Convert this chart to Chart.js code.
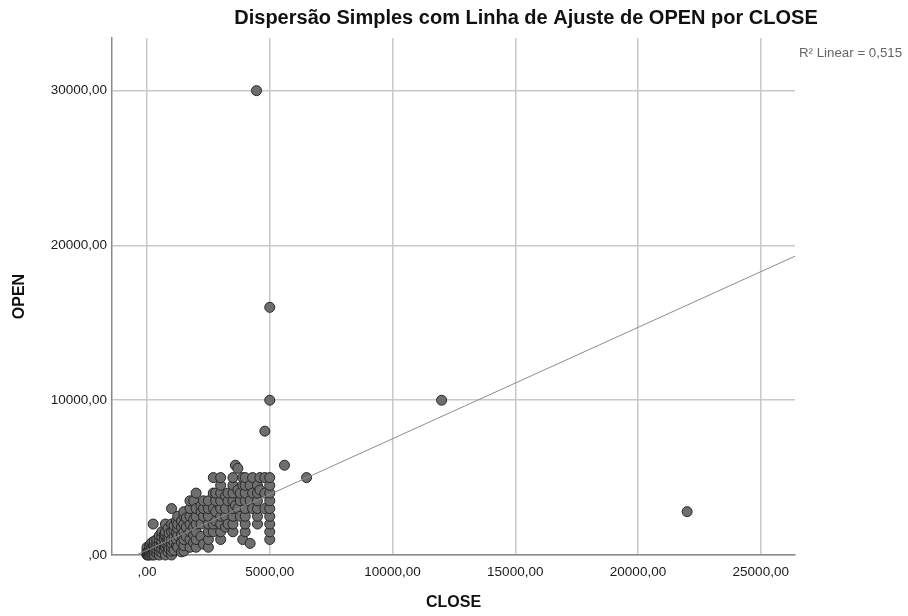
<!DOCTYPE html>
<html>
<head>
<meta charset="utf-8">
<script src="https://cdn.jsdelivr.net/npm/chart.js@4.4.1/dist/chart.umd.min.js"></script>
<style>
  body { margin: 0; background: #fff; }
</style>
</head>
<body>
<canvas id="grafico" width="908" height="616"></canvas>
<script>
// CLOSE values per column, and the OPEN values seen in each column
var closeCols = [0, 50, 100, 150, 200, 250, 300, 400, 500, 600, 700, 750, 850, 900, 1000,
    1100, 1200, 1250, 1400, 1500, 1600, 1750, 1900, 2000, 2200, 2300, 2500, 2700, 2800,
    3000, 3200, 3300, 3500, 3600, 3700, 3800, 3900, 4000, 4200, 4300, 4500, 4600, 4800, 5000];
var openCols = [
    [0, 50, 150, 300, 500],
    [0, 100, 250],
    [0, 200, 400, 600],
    [50, 300, 700],
    [0, 100, 350, 500, 800],
    [150, 600, 2000],
    [0, 250, 450, 700, 900],
    [100, 350, 600, 800, 1000],
    [0, 250, 500, 750, 1000, 1250],
    [150, 400, 700, 900, 1200, 1500],
    [300, 600, 1000, 1300],
    [0, 500, 750, 1250, 1500, 2000],
    [200, 600, 900, 1100, 1700],
    [400, 1000, 1400],
    [0, 250, 500, 750, 1000, 1500, 2000, 3000],
    [300, 800, 1200, 1600, 1900],
    [600, 1000, 1400, 2200],
    [500, 1250, 1750, 2000, 2500],
    [200, 800, 1300, 1800, 2200],
    [250, 600, 1000, 1500, 2000, 2500, 2800],
    [1200, 1800, 2400],
    [500, 1000, 1500, 2000, 2500, 3000, 3500],
    [800, 1300, 1800, 2300, 3500],
    [500, 1000, 1500, 2000, 2500, 3000, 4000],
    [1200, 2000, 2800, 3200],
    [700, 2500, 3000, 3500],
    [500, 1000, 1500, 2000, 2500, 3000, 3500],
    [1500, 2000, 3000, 4000, 5000],
    [2200, 2800, 3500, 4000],
    [1000, 1500, 2000, 2500, 3000, 3500, 4000, 4500, 5000],
    [1800, 2500, 3000, 3800],
    [2000, 3500, 4000],
    [1500, 2000, 2500, 3000, 3500, 4000, 4500, 5000],
    [3200, 5800],
    [3000, 4200, 5600],
    [2500, 3500, 4000],
    [1000, 4500, 5000],
    [1500, 2000, 2500, 3000, 3500, 4000, 4500, 5000],
    [750, 3500, 4500],
    [3000, 4000, 5000],
    [2000, 2500, 3000, 3500, 4000, 4500],
    [4200, 5000],
    [3000, 4000, 5000],
    [1000, 1500, 2000, 2500, 3000, 3500, 4000, 4500, 5000]
];
// pontos isolados
var extraClose = [4460, 5000, 5000, 12000, 4800, 5600, 6500, 22000];
var extraOpen = [30000, 16000, 10000, 10000, 8000, 5800, 5000, 2800];

var fitSlope = 0.7195;
var fitIntercept = 314;
var rLabel = "R² Linear = 0,515";

var xTicks = [0, 5000, 10000, 15000, 20000, 25000];
var yTicks = [0, 10000, 20000, 30000];
var xMin = -1426, xMax = 26395;
var yMin = 0, yMax = 33400;

var pontos = [];
for (var i = 0; i < closeCols.length; i++) {
    for (var j = 0; j < openCols[i].length; j++) {
        pontos.push({x: closeCols[i], y: openCols[i][j]});
    }
}
for (var k = 0; k < extraClose.length; k++) {
    pontos.push({x: extraClose[k], y: extraOpen[k]});
}

var linha = [
    {x: -fitIntercept / fitSlope, y: 0},
    {x: xMax, y: fitIntercept + fitSlope * xMax}
];

function fmt(v) {
    return v === 0 ? ",00" : v + ",00";
}

var textos = {
    id: "textos",
    afterDraw: function (chart) {
        var ctx = chart.ctx;
        ctx.save();
        ctx.textBaseline = "middle";
        ctx.textAlign = "center";
        ctx.fillStyle = "#111";
        ctx.font = "bold 20px 'Liberation Sans', Arial, sans-serif";
        ctx.fillText("Dispersão Simples com Linha de Ajuste de OPEN por CLOSE", 526, 18);
        ctx.textAlign = "left";
        ctx.fillStyle = "#666";
        ctx.font = "13.3px 'Liberation Sans', Arial, sans-serif";
        ctx.fillText(rLabel, 799, 53);
        ctx.restore();
    }
};

var canvas = document.getElementById("grafico").getContext("2d");
window.grafico = new Chart(canvas, {
    type: "scatter",
    data: {
        datasets: [{
                label: "Ajuste",
                type: "line",
                data: linha,
                borderColor: "#8c8c8c",
                borderWidth: 1,
                pointRadius: 0,
                fill: false,
                order: 0
            },
            {
                label: "OPEN",
                data: pontos,
                backgroundColor: "#6e6e6e",
                borderColor: "#262626",
                borderWidth: 1,
                pointRadius: 5,
                clip: false,
                order: 1
            }
        ]
    },
    options: {
        responsive: false,
        animation: false,
        layout: {
            padding: {top: 38, right: 113, left: 0, bottom: 0}
        },
        plugins: {
            legend: {display: false},
            tooltip: {enabled: false}
        },
        scales: {
            x: {
                type: "linear",
                min: xMin,
                max: xMax,
                afterBuildTicks: function (s) {
                    s.ticks = xTicks.map(function (v) { return {value: v}; });
                },
                afterFit: function (s) { s.height = 61; },
                ticks: {
                    callback: fmt,
                    color: "#1a1a1a",
                    padding: 9,
                    maxRotation: 0,
                    font: {family: "'Liberation Sans', Arial, sans-serif", size: 13.5}
                },
                grid: {color: "#c8c8c8", lineWidth: 1.5, drawTicks: false},
                border: {display: true, color: "#8a8a8a", width: 1.5},
                title: {
                    display: true,
                    text: "CLOSE",
                    color: "#111",
                    padding: {top: 0, bottom: 3.4},
                    font: {family: "'Liberation Sans', Arial, sans-serif", size: 16, weight: "bold"}
                }
            },
            y: {
                type: "linear",
                min: yMin,
                max: yMax,
                afterBuildTicks: function (s) {
                    s.ticks = yTicks.map(function (v) { return {value: v}; });
                },
                afterFit: function (s) { s.width = 112; },
                ticks: {
                    callback: fmt,
                    color: "#1a1a1a",
                    padding: 5,
                    font: {family: "'Liberation Sans', Arial, sans-serif", size: 13.5}
                },
                grid: {color: "#c8c8c8", lineWidth: 1.5, drawTicks: false},
                border: {display: true, color: "#8a8a8a", width: 1.5},
                title: {
                    display: true,
                    text: "OPEN",
                    color: "#111",
                    padding: {top: 10.4, bottom: 0},
                    font: {family: "'Liberation Sans', Arial, sans-serif", size: 16, weight: "bold"}
                }
            }
        }
    },
    plugins: [textos]
});
</script>
</body>
</html>
